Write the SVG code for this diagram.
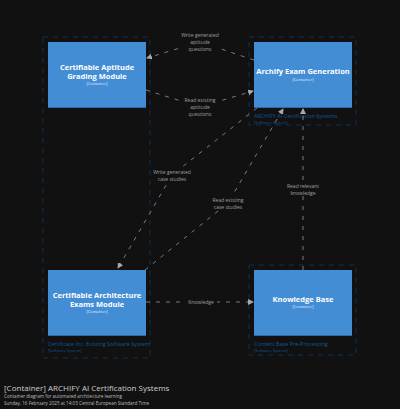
<svg xmlns="http://www.w3.org/2000/svg" width="400" height="409" viewBox="0 0 400 409">
<defs>
<marker id="arr" markerWidth="6" markerHeight="6" refX="5" refY="3" orient="auto" markerUnits="userSpaceOnUse">
<path d="M0,0 L6,3 L0,6 z" fill="#a8a8a8"/>
</marker>
</defs>
<style>
.bnd{fill:none;stroke:#0f3352;stroke-width:1;stroke-dasharray:5 5}
.blbl{font-family:"Open Sans",sans-serif;fill:#0f5796;font-size:5.5px}
.bsub{font-family:"Open Sans",sans-serif;fill:#0f5796;font-size:4px}
.box{fill:#438dd5}
.shadow{fill:#2e6aa3}
.name{font-family:"Open Sans",sans-serif;fill:#ffffff;font-size:7.5px;font-weight:bold;text-anchor:middle}
.type{font-family:"Open Sans",sans-serif;fill:#e6f0fa;font-size:4px;text-anchor:middle}
.edge{fill:none;stroke:#969696;stroke-width:0.8;stroke-dasharray:4 6;marker-end:url(#arr)}
.elbl{font-family:"Open Sans",sans-serif;fill:#a0a0a0;font-size:5px;text-anchor:middle}
.lbg{fill:#111111}
.title{font-family:"Open Sans",sans-serif;fill:#cfcfcf;font-size:8px}
.sub{font-family:"Open Sans",sans-serif;fill:#bdbdbd;font-size:4.6px}
</style>
<rect width="400" height="409" fill="#111111"/>
<g id="boundaries">
<rect class="bnd" x="43" y="37" width="107" height="321"/>
<text class="blbl" x="48" y="346">Certificate Inc. Existing Software System</text>
<text class="bsub" x="48" y="352">[Software System]</text>
<rect class="bnd" x="249" y="37" width="107" height="88"/>
<text class="blbl" x="254" y="118">ARCHIFY AI Certification Systems</text>
<text class="bsub" x="254" y="124">[Software System]</text>
<rect class="bnd" x="249" y="265" width="107" height="90"/>
<text class="blbl" x="254" y="346">Content Base Pre-Processing</text>
<text class="bsub" x="254" y="352">[Software System]</text>
</g>
<g id="connectors">
<polyline class="edge" points="254,60 200,42 147,58"/>
<polyline class="edge" points="146,90 200,107 253,91"/>
<polyline class="edge" points="257,108 172,175 118,268"/>
<polyline class="edge" points="145,270 228,203 283,109"/>
<line class="edge" x1="303" y1="270" x2="303" y2="109"/>
<line class="edge" x1="146" y1="302" x2="253" y2="302"/>
<rect class="lbg" x="180" y="31" width="40" height="21"/>
<text class="elbl" x="200" y="37">Write generated</text>
<text class="elbl" x="200" y="44">aptitude</text>
<text class="elbl" x="200" y="51">questions</text>
<rect class="lbg" x="182" y="96" width="36" height="20"/>
<text class="elbl" x="200" y="102">Read existing</text>
<text class="elbl" x="200" y="109">aptitude</text>
<text class="elbl" x="200" y="116">questions</text>
<rect class="lbg" x="151" y="168" width="42" height="14"/>
<text class="elbl" x="172" y="174">Write generated</text>
<text class="elbl" x="172" y="181">case studies</text>
<rect class="lbg" x="210" y="196" width="36" height="14"/>
<text class="elbl" x="228" y="202">Read existing</text>
<text class="elbl" x="228" y="209">case studies</text>
<rect class="lbg" x="285" y="182" width="36" height="14"/>
<text class="elbl" x="303" y="188">Read relevant</text>
<text class="elbl" x="303" y="195">knowledge</text>
<rect class="lbg" x="185" y="298" width="32" height="8"/>
<text class="elbl" x="201" y="304">Knowledge</text>
</g>
<g id="aptitude">
<rect class="shadow" x="48" y="42" width="98" height="66"/>
<rect class="box" x="48" y="42" width="98" height="65"/>
<text class="name" x="97" y="70">Certifiable Aptitude</text>
<text class="name" x="97" y="79">Grading Module</text>
<text class="type" x="97" y="85">[Container]</text>
</g>
<g id="examgen">
<rect class="shadow" x="254" y="42" width="98" height="66"/>
<rect class="box" x="254" y="42" width="98" height="65"/>
<text class="name" x="303" y="74">Archify Exam Generation</text>
<text class="type" x="303" y="81">[Container]</text>
</g>
<g id="architecture">
<rect class="shadow" x="48" y="270" width="98" height="66"/>
<rect class="box" x="48" y="270" width="98" height="65"/>
<text class="name" x="97" y="298">Certifiable Architecture</text>
<text class="name" x="97" y="307">Exams Module</text>
<text class="type" x="97" y="313">[Container]</text>
</g>
<g id="knowledge">
<rect class="shadow" x="254" y="270" width="98" height="66"/>
<rect class="box" x="254" y="270" width="98" height="65"/>
<text class="name" x="303" y="302">Knowledge Base</text>
<text class="type" x="303" y="308">[Container]</text>
</g>
<g id="title">
<text class="title" x="4" y="391">[Container] ARCHIFY AI Certification Systems</text>
<text class="sub" x="4" y="398">Container diagram for automated architecture learning</text>
<text class="sub" x="4" y="405">Sunday, 16 February 2025 at 14:03 Central European Standard Time</text>
</g>
</svg>
